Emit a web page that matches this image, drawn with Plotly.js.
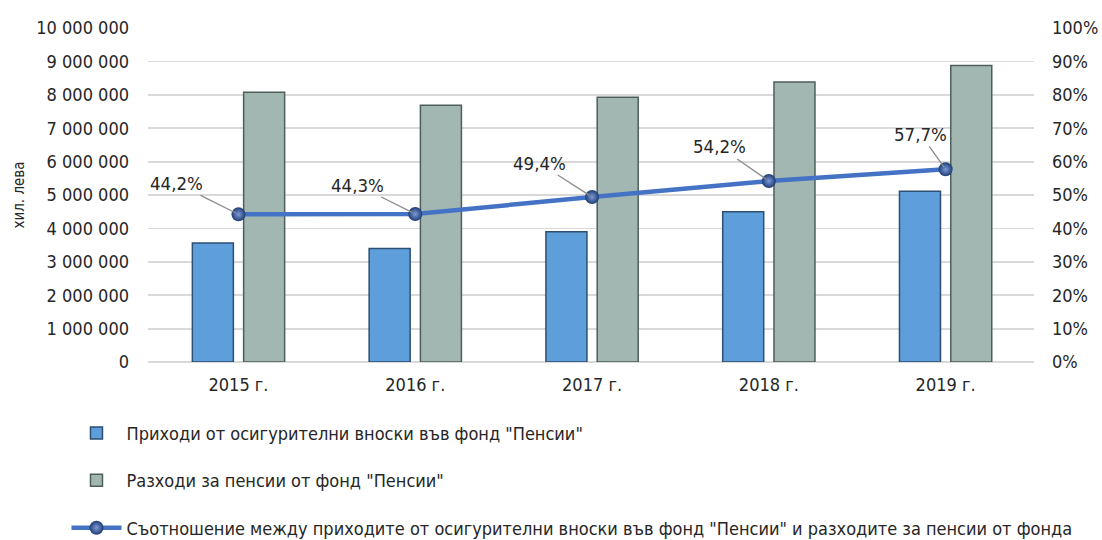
<!DOCTYPE html>
<html>
<head>
<meta charset="utf-8">
<script src="https://cdn.plot.ly/plotly-3.0.1.min.js"></script>
<style>html,body{margin:0;padding:0;background:#fff;}#chart{width:1102px;height:540px;}</style>
</head>
<body>
<div id="chart"></div>
<script>
const categories = ['2015 г.', '2016 г.', '2017 г.', '2018 г.', '2019 г.'];
const revenues = [3560000, 3400000, 3900000, 4500000, 5110000];
const expenses = [8080000, 7690000, 7930000, 8380000, 8880000];
const ratio = [44.2, 44.3, 49.4, 54.2, 57.7];
const labelOffsetsX = [-62, -58, -53, -49, -25];
const labelOffsetsY = [-31, -29, -34, -34, -35];
const seriesNames = [
  'Приходи от осигурителни вноски във фонд "Пенсии"',
  'Разходи за пенсии от фонд "Пенсии"',
  'Съотношение между приходите от осигурителни вноски във фонд "Пенсии" и разходите за пенсии от фонда'
];
const leftTicks = [0,1000000,2000000,3000000,4000000,5000000,6000000,7000000,8000000,9000000,10000000];

const FONT = '"Liberation Sans Narrow", "Arial Narrow", "DejaVu Sans Condensed", sans-serif';

const traces = [
  {
    type: 'bar', x: categories, y: revenues, name: seriesNames[0],
    marker: {color: '#5E9FDB', line: {color: '#2C4F72', width: 1.5}},
    legendgroup: 'a', hoverinfo: 'skip'
  },
  {
    type: 'bar', x: categories, y: expenses, name: seriesNames[1],
    marker: {color: '#A2B7B2', line: {color: '#4E5E5B', width: 1.5}},
    legendgroup: 'b', hoverinfo: 'skip'
  },
  {
    type: 'scatter', mode: 'lines+markers', x: categories, y: ratio, yaxis: 'y2', name: seriesNames[2],
    line: {color: '#4472C4', width: 4.5},
    marker: {size: 14, color: '#1E3B73', gradient: {type: 'radial', color: '#7C9CD8'}, line: {width: 0}},
    legendgroup: 'c', hoverinfo: 'skip'
  }
];

const annotations = ratio.map((v, i) => ({
  x: categories[i], y: v, xref: 'x', yref: 'y2',
  text: v.toFixed(1).replace('.', ',') + '%',
  showarrow: true, arrowhead: 0, arrowwidth: 1.3, arrowcolor: '#8C8C8C',
  ax: labelOffsetsX[i], ay: labelOffsetsY[i], standoff: 3,
  font: {family: FONT, size: 18.5, color: '#262626'}
}));

const layout = {
  width: 1102, height: 540,
  margin: {l: 148, r: 68, t: 28, b: 178},
  paper_bgcolor: '#ffffff', plot_bgcolor: '#ffffff',
  separators: ', ',
  barmode: 'group', bargap: 0.42, bargroupgap: 0.2,
  font: {family: FONT, size: 18, color: '#262626'},
  xaxis: {
    type: 'category', showgrid: false, zeroline: false,
    showline: false, ticks: '', ticklabelstandoff: 10,
    tickfont: {family: FONT, size: 18, color: '#262626'}
  },
  yaxis: {
    range: [0, 10000000], tickvals: leftTicks, tickformat: ',d',
    showgrid: true, gridcolor: '#D9D9D9', gridwidth: 1.8,
    zeroline: true, zerolinecolor: '#D9D9D9', zerolinewidth: 1.8,
    showline: false, ticks: '', ticklen: 0, ticklabelstandoff: 18,
    tickfont: {family: FONT, size: 18, color: '#262626'},
    title: {text: 'хил. лева', standoff: 8, font: {family: FONT, size: 15, color: '#262626'}}
  },
  yaxis2: {
    overlaying: 'y', side: 'right', range: [0, 100], dtick: 10, ticksuffix: '%',
    showgrid: false, zeroline: false, showline: false, ticks: '', ticklabelstandoff: 17,
    tickfont: {family: FONT, size: 18, color: '#262626'}
  },
  showlegend: true,
  legend: {
    orientation: 'v', x: -0.092, xanchor: 'left',
    yref: 'container', y: 0.232, yanchor: 'top',
    font: {family: FONT, size: 18, color: '#262626'},
    tracegroupgap: 21, itemwidth: 50, traceorder: 'grouped'
  },
  annotations: annotations
};

Plotly.newPlot('chart', traces, layout, {displayModeBar: false, staticPlot: true});
</script>
</body>
</html>
